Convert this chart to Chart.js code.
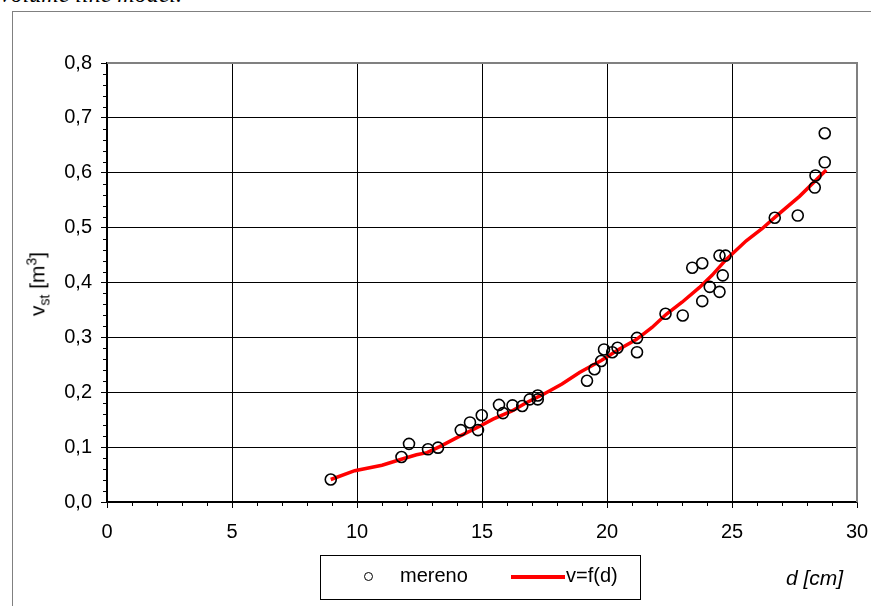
<!DOCTYPE html>
<html>
<head>
<meta charset="utf-8">
<script src="https://cdn.jsdelivr.net/npm/chart.js@4"></script>
<style>
  body { margin: 0; background: #fff; font-family: "Liberation Sans", Arial, sans-serif; }
  #wrap { position: relative; width: 871px; height: 606px; overflow: hidden; }
  #frame { position: absolute; left: 12px; top: 11px; width: 900px; height: 700px; border: 1px solid #808080; }
  #cap { position: absolute; left: 0; top: -19px; font: italic 24px "Liberation Serif", "Times New Roman", serif; color: #000; }
  #c { position: absolute; left: 0; top: 0; }
  .ytitle { position: absolute; left: 38px; top: 284px; transform: translate(-50%, -50%) rotate(-90deg); font-size: 21px; white-space: nowrap; }
  .ytitle sub, .ytitle sup { font-size: 14px; }
  .xtitle { position: absolute; left: 786px; top: 566px; font: italic 21px "Liberation Sans", Arial, sans-serif; }
  .legenda { position: absolute; left: 320px; top: 555px; width: 321px; height: 45px; border: 1.5px solid #000; box-sizing: border-box; font-size: 20px; }
  .legenda .circ { position: absolute; left: 43px; top: 16px; width: 7px; height: 7px; border: 1.5px solid #000; border-radius: 50%; }
  .legenda .txt1 { position: absolute; left: 79px; top: 8px; }
  .legenda .lin { position: absolute; left: 190px; top: 19px; width: 54px; height: 4px; background: #ff0000; }
  .legenda .txt2 { position: absolute; left: 245px; top: 8px; }
</style>
</head>
<body>
<div id="wrap">
  <div id="frame"></div>
  <div id="cap">volume line model.</div>
  <canvas id="c" width="871" height="606"></canvas>
  <div class="ytitle">v<sub>st</sub> [m<sup>3</sup>]</div>
  <div class="xtitle">d [cm]</div>
  <div class="legenda">
    <div class="circ"></div><div class="txt1">mereno</div>
    <div class="lin"></div><div class="txt2">v=f(d)</div>
  </div>
</div>
<script>
// mereno (izmjereno)
let merenoD = [8.95, 11.78, 12.08, 12.84, 13.24, 14.15, 14.52, 14.84, 14.99, 15.68,
  15.84, 16.22, 16.61, 16.91, 17.23, 17.23, 19.2, 19.5, 19.77, 19.88,
  20.21, 20.42, 21.2, 21.2, 22.34, 23.03, 23.41, 23.81, 24.11, 23.81,
  24.5, 24.63, 24.5, 24.74, 26.71, 27.63, 28.31, 28.34, 28.71, 28.71]
let merenoV = [0.041, 0.082, 0.106, 0.096, 0.099, 0.131, 0.145, 0.131, 0.158, 0.177,
  0.162, 0.176, 0.175, 0.187, 0.194, 0.187, 0.221, 0.242, 0.257, 0.278,
  0.273, 0.281, 0.299, 0.273, 0.343, 0.340, 0.427, 0.366, 0.392, 0.435,
  0.383, 0.413, 0.449, 0.449, 0.518, 0.522, 0.573, 0.595, 0.619, 0.672]

// v=f(d)
let fD = [8.95, 9.91, 11.0, 11.71, 12.38, 12.8, 13.31, 14.11, 14.91, 15.44, 16.2, 16.77,
  17.44, 18.2, 18.9, 19.77, 20.5, 21.17, 21.8, 22.37, 23.0, 23.7, 24.2, 24.77,
  25.57, 26.2, 26.77, 27.7, 28.77]
let fV = [0.041, 0.057, 0.067, 0.077, 0.086, 0.090, 0.101, 0.120, 0.138, 0.151, 0.166, 0.181,
  0.196, 0.215, 0.236, 0.258, 0.279, 0.296, 0.318, 0.342, 0.364, 0.391, 0.413, 0.442,
  0.476, 0.498, 0.521, 0.557, 0.605]

let xTicks = [0, 5, 10, 15, 20, 25, 30]
let yTicks = [0, 0.1, 0.2, 0.3, 0.4, 0.5, 0.6, 0.7, 0.8]

const font = { family: '"Liberation Sans", Arial, sans-serif', size: 20 }

// sitne crtice na osima + sivi gornji i desni rub
const crtice = {
  id: 'crtice',
  afterDraw(chart) {
    let c = chart.ctx, a = chart.chartArea
    let x = chart.scales.x, y = chart.scales.y
    c.save()
    c.strokeStyle = '#000'
    c.lineWidth = 1
    for (let i = 1; i < 40; i++) {
      if (i % 5 == 0) continue
      let py = Math.round(y.getPixelForValue(i * 0.02)) + 0.5
      c.beginPath(); c.moveTo(a.left - 4, py); c.lineTo(a.left, py); c.stroke()
    }
    for (let i = 1; i < 30; i++) {
      if (i % 5 == 0) continue
      let px = Math.round(x.getPixelForValue(i)) + 0.5
      c.beginPath(); c.moveTo(px, a.bottom); c.lineTo(px, a.bottom + 4); c.stroke()
    }
    c.strokeStyle = '#808080'
    c.lineWidth = 2
    c.beginPath()
    c.moveTo(a.left, a.top); c.lineTo(a.right, a.top); c.lineTo(a.right, a.bottom)
    c.stroke()
    c.restore()
  }
}

let ctx = document.getElementById('c').getContext('2d')
let grafikon = new Chart(ctx, {
  type: 'scatter',
  data: {
    datasets: [{
      label: 'mereno',
      data: merenoD.map((d, i) => ({ x: d, y: merenoV[i] })),
      pointStyle: 'circle',
      pointRadius: 5.5,
      pointBorderWidth: 1.6,
      borderColor: '#000',
      backgroundColor: 'rgba(0,0,0,0)',
      order: 0
    }, {
      type: 'line',
      label: 'v=f(d)',
      data: fD.map((d, i) => ({ x: d, y: fV[i] })),
      borderColor: '#ff0000',
      borderWidth: 3.5,
      pointRadius: 0,
      tension: 0,
      order: 1
    }]
  },
  options: {
    responsive: false,
    animation: false,
    layout: { padding: { left: 0, right: 14, top: 63, bottom: 0 } },
    plugins: { legend: { display: false }, tooltip: { enabled: false } },
    scales: {
      x: {
        type: 'linear', min: 0, max: 30,
        afterBuildTicks: s => { s.ticks = xTicks.map(v => ({ value: v })) },
        afterFit: s => { s.height = 104; s.paddingLeft = 0; s.paddingRight = 0 },
        ticks: { color: '#000', font: font, padding: 12, maxRotation: 0 },
        grid: { color: c => c.tick && c.tick.value == 30 ? 'rgba(0,0,0,0)' : '#000', lineWidth: 1, tickLength: 6, tickColor: '#000' },
        border: { color: '#000', width: 1.5 }
      },
      y: {
        min: 0, max: 0.8,
        afterBuildTicks: s => { s.ticks = yTicks.map(v => ({ value: v })) },
        afterFit: s => { s.width = 107; s.paddingTop = 0; s.paddingBottom = 0 },
        ticks: { color: '#000', font: font, padding: 9, callback: v => v.toFixed(1).replace('.', ',') },
        grid: { color: c => c.tick && c.tick.value == 0.8 ? 'rgba(0,0,0,0)' : '#000', lineWidth: 1, tickLength: 6, tickColor: '#000' },
        border: { color: '#000', width: 1.5 }
      }
    }
  },
  plugins: [crtice]
})
</script>
</body>
</html>
